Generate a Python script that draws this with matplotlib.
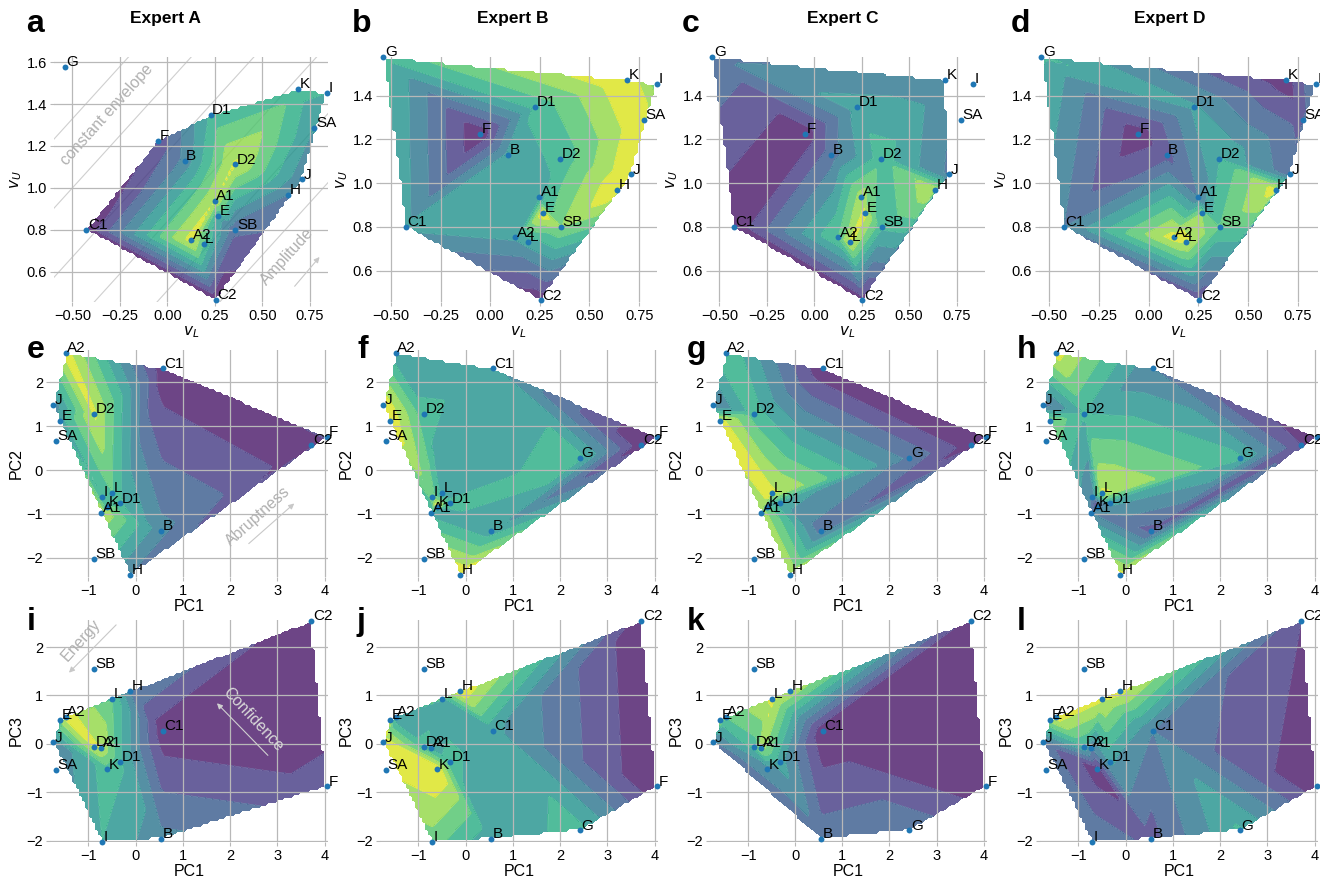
"""Expert ratings interpolated over three stimulus spaces (vL/vU, PC1/PC2, PC1/PC3)."""

import numpy as np
import matplotlib.pyplot as plt
import matplotlib.tri as mtri

plt.rcParams["font.family"] = ["Liberation Sans", "DejaVu Sans"]

# stimulus names and coordinates
names = ["A1", "A2", "B", "C1", "C2", "D1", "D2", "E", "F", "G", "H", "I", "J", "K", "L", "SA", "SB"]
v_l = [0.248, 0.125, 0.090, -0.426, 0.254, 0.227, 0.354, 0.266, -0.051, -0.539, 0.637, 0.838, 0.710, 0.688, 0.190, 0.773, 0.357]
v_u = [0.936, 0.752, 1.128, 0.800, 0.464, 1.347, 1.112, 0.864, 1.224, 1.579, 0.968, 1.453, 1.040, 1.472, 0.733, 1.288, 0.800]
pc1 = [-0.73, -1.48, 0.54, 0.58, 3.72, -0.33, -0.87, -1.60, 4.05, 2.42, -0.12, -0.71, -1.74, -0.60, -0.49, -1.68, -0.88]
pc2 = [-0.97, 2.68, -1.38, 2.32, 0.58, -0.76, 1.29, 1.13, 0.75, 0.28, -2.40, -0.61, 1.48, -0.84, -0.53, 0.66, -2.02]
pc3 = [-0.08, 0.55, -1.96, 0.27, 2.54, -0.37, -0.06, 0.49, -0.88, -1.79, 1.09, -2.03, 0.03, -0.53, 0.92, -0.54, 1.54]

# expert ratings per stimulus (nan = not rated)
nan = np.nan
expert_a = [8.0, 8.5, 3.3, 0.3, 0.2, 5.2, 8.2, 4.5, 1.2, nan, 3.0, 5.0, 3.2, 5.5, 6.0, 4.0, 2.2]
expert_b = [4.6, 4.2, 4.3, 4.3, 0.3, 5.3, 5.3, 8.9, 0.1, 5.4, 8.95, 6.5, 8.95, 8.95, 4.5, 8.95, 7.0]
expert_c = [7.6, 6.0, 2.5, 0.2, 0.5, 4.5, 5.5, 8.4, 0.3, 2.8, 7.9, nan, 2.8, 3.3, 8.3, nan, 5.2]
expert_d = [3.0, 8.5, 1.6, 3.0, 1.0, 4.2, 5.0, 7.0, 0.3, 5.2, 8.5, 3.0, 2.4, 0.4, 8.2, 1.6, 6.0]

experts = ["Expert A", "Expert B", "Expert C", "Expert D"]
ratings = [expert_a, expert_b, expert_c, expert_d]
pc_excluded = ["SA", "SB"]  # not used for interpolation in PC space

LEVELS = np.arange(0, 10)
POINT_COLOR = "#1f77b4"
GRID_COLOR = "#b8b8b8"
NOTE_COLOR = "#b0b0b0"

FIG_W, FIG_H = 1320, 877


def px_axes(fig, left, top, right, bottom):
    """Axes placed by pixel box (top-left origin)."""
    return fig.add_axes([left / FIG_W, 1 - bottom / FIG_H, (right - left) / FIG_W, (bottom - top) / FIG_H])


def draw_panel(ax, x, y, z, fit_mask, show_mask, xlim, ylim):
    x = np.asarray(x)
    y = np.asarray(y)
    z = np.asarray(z, dtype=float)

    tri = mtri.Triangulation(x[fit_mask], y[fit_mask])
    interp = mtri.LinearTriInterpolator(tri, z[fit_mask])
    xi = np.linspace(x[fit_mask].min(), x[fit_mask].max(), 85)
    yi = np.linspace(y[fit_mask].min(), y[fit_mask].max(), 85)
    gx, gy = np.meshgrid(xi, yi)
    gz = interp(gx, gy)

    ax.contourf(gx, gy, gz, levels=LEVELS, cmap="viridis", alpha=0.8, zorder=1)
    ax.contour(gx, gy, gz, levels=LEVELS[1:-1], colors="white", linewidths=0.5, alpha=0.3, zorder=1.5)

    ax.scatter(x[show_mask], y[show_mask], s=18, color=POINT_COLOR, zorder=4, clip_on=False, linewidths=0)
    for name, px, py, show in zip(names, x, y, show_mask):
        if show:
            ax.annotate(name, (px, py), xytext=(1.2, 3.5), textcoords="offset points",
                        ha="left", va="center", fontsize=11, zorder=5, annotation_clip=False)

    ax.set_xlim(*xlim)
    ax.set_ylim(*ylim)
    ax.grid(True, color=GRID_COLOR, linewidth=0.9)
    ax.set_axisbelow(False)
    for spine in ax.spines.values():
        spine.set_visible(False)
    ax.tick_params(length=3, width=0.8, color=GRID_COLOR, labelsize=10.5, pad=2)


fig = plt.figure(figsize=(FIG_W / 100, FIG_H / 100), dpi=100)

row1_left = [54, 380, 710, 1039]
row1_right = [328, 657, 985, 1318]
row23_left = [50, 380, 710, 1040]
row23_right = [328, 658, 987, 1318]
row1_xlims = [(-0.597, 0.845), (-0.555, 0.84), (-0.55, 0.90), (-0.55, 0.85)]
row1_ylims = [(0.455, 1.625), (0.457, 1.577), (0.457, 1.577), (0.457, 1.577)]
pc_xlim = (-1.81, 4.07)
letters = "abcdefghijkl"
title_x = [165, 513, 843, 1170]

names_arr = np.array(names)
pc_ok = ~np.isin(names_arr, pc_excluded)

for col, (expert, values) in enumerate(zip(experts, ratings)):
    values = np.asarray(values, dtype=float)
    rated = ~np.isnan(values)

    # row 1: vL / vU
    ax = px_axes(fig, row1_left[col], 57, row1_right[col], 302)
    draw_panel(ax, v_l, v_u, values, rated, np.ones(len(names), bool), row1_xlims[col], row1_ylims[col])
    ax.set_xticks([-0.5, -0.25, 0, 0.25, 0.5, 0.75])
    ax.set_xticklabels(["\u22120.50", "\u22120.25", "0.00", "0.25", "0.50", "0.75"])
    ax.set_yticks([0.6, 0.8, 1.0, 1.2, 1.4, 1.6] if col == 0 else [0.6, 0.8, 1.0, 1.2, 1.4])
    ax.yaxis.set_major_formatter(plt.FormatStrFormatter("%.1f"))
    ax.set_xlabel("$v_L$", fontsize=11, labelpad=1)
    ax.set_ylabel("$v_U$", fontsize=11, labelpad=2)
    fig.text(title_x[col] / FIG_W, 1 - 18 / FIG_H, expert, ha="center", va="center",
             fontsize=12.5, fontweight="bold")
    fig.text((row1_left[col] - 28) / FIG_W, 1 - 24 / FIG_H, letters[col], ha="left", va="center",
             fontsize=23, fontweight="bold")
    if col == 0:
        # guide lines of constant envelope shape (vU - vL = const)
        for c in [1.83, 1.50, 1.17, 0.84, 0.51, 0.18]:
            xs = np.array([-0.6, 0.85])
            ax.plot(xs, xs + c, color="#cfcfcf", linewidth=0.8, zorder=0.5)
        ax.text(-0.32, 1.35, "constant envelope", rotation=48, color=NOTE_COLOR, fontsize=11.5,
                ha="center", va="center", rotation_mode="anchor")
        ax.text(0.63, 0.67, "Amplitude", rotation=48, color=NOTE_COLOR, fontsize=11.5,
                ha="center", va="center", rotation_mode="anchor")
        ax.annotate("", xy=(0.81, 0.68), xytext=(0.66, 0.52),
                    arrowprops=dict(arrowstyle="-|>", color="#c8c8c8", lw=0.8, mutation_scale=8))

    # row 2: PC1 / PC2
    ax = px_axes(fig, row23_left[col], 350, row23_right[col], 577)
    draw_panel(ax, pc1, pc2, values, rated & pc_ok, rated, pc_xlim, (-2.44, 2.74))
    ax.set_xticks(range(-1, 5))
    ax.set_yticks(range(-2, 3))
    ax.set_xlabel("PC1", fontsize=11.5, labelpad=1)
    ax.set_ylabel("PC2", fontsize=11.5, labelpad=2)
    fig.text((row23_left[col] - 23) / FIG_W, 1 - 350 / FIG_H, letters[col + 4], ha="left", va="center",
             fontsize=23, fontweight="bold")
    if col == 0:
        ax.text(2.6, -1.05, "Abruptness", rotation=42, color=NOTE_COLOR, fontsize=11.5,
                ha="center", va="center", rotation_mode="anchor")
        ax.annotate("", xy=(3.4, -0.72), xytext=(2.35, -1.72),
                    arrowprops=dict(arrowstyle="-|>", color="#c8c8c8", lw=0.8, mutation_scale=8))

    # row 3: PC1 / PC3
    ax = px_axes(fig, row23_left[col], 620, row23_right[col], 842)
    draw_panel(ax, pc1, pc3, values, rated & pc_ok, rated, pc_xlim, (-2.03, 2.56))
    ax.set_xticks(range(-1, 5))
    ax.set_yticks(range(-2, 3))
    ax.set_xlabel("PC1", fontsize=11.5, labelpad=1)
    ax.set_ylabel("PC3", fontsize=11.5, labelpad=2)
    fig.text((row23_left[col] - 23) / FIG_W, 1 - 622 / FIG_H, letters[col + 8], ha="left", va="center",
             fontsize=23, fontweight="bold")
    if col == 0:
        ax.text(-1.15, 2.15, "Energy", rotation=48, color=NOTE_COLOR, fontsize=11.5,
                ha="center", va="center", rotation_mode="anchor")
        ax.annotate("", xy=(-1.45, 1.43), xytext=(-0.37, 2.5),
                    arrowprops=dict(arrowstyle="-|>", color="#c8c8c8", lw=0.8, mutation_scale=8))
        ax.text(2.48, 0.5, "Confidence", rotation=-47, color="#d8d8d8", fontsize=11.5,
                ha="center", va="center", rotation_mode="anchor")
        ax.annotate("", xy=(1.68, 0.88), xytext=(2.84, -0.28),
                    arrowprops=dict(arrowstyle="-|>", color="#d0d0d0", lw=0.8, mutation_scale=8))

fig.savefig("out.png", dpi=100)
